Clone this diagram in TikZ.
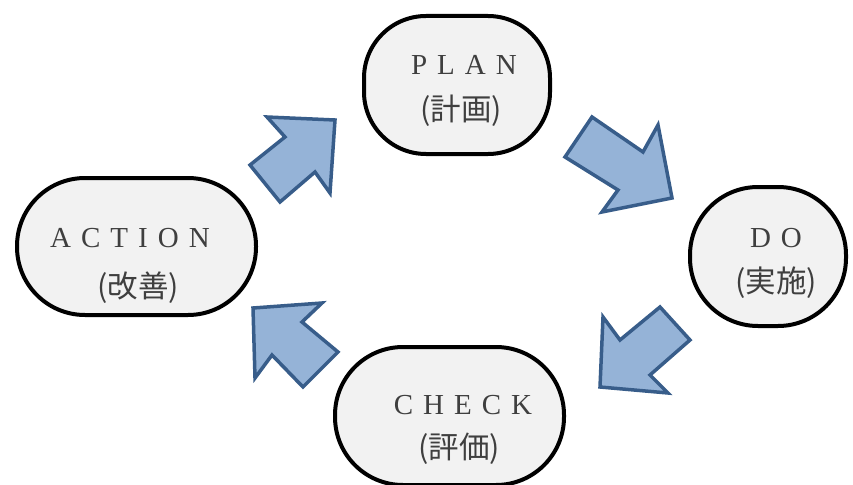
\documentclass[tikz,border=0pt]{standalone}
\usepackage{fontspec}
\setmainfont{Liberation Serif}
\newfontfamily\cjk{Noto Sans CJK JP}
\definecolor{boxfill}{HTML}{F2F2F2}
\definecolor{arrfill}{HTML}{95B3D7}
\definecolor{arrline}{HTML}{385D8A}
\definecolor{txt}{HTML}{3F3F3F}
\begin{document}
\begin{tikzpicture}[x=1pt,y=-1pt,
  box/.style={draw=black, line width=4pt, fill=boxfill, rounded corners=#1, inner sep=0pt},
  en/.style={anchor=base, inner sep=0pt, text=txt, font=\fontsize{29}{30}\selectfont},
  jp/.style={inner sep=0pt, text=txt, font=\cjk\fontsize{30.5}{32}\selectfont},
  blockarrow/.style={draw=arrline, fill=arrfill, line width=3.5pt, line join=miter}]
\useasboundingbox (0,0) rectangle (853,484);

% nodes
\node[box=62pt, minimum width=186pt, minimum height=138pt] (plan) at (457,85) {};
\node[box=68pt, minimum width=156pt, minimum height=139pt] (do) at (768,256.5) {};
\node[box=68pt, minimum width=239pt, minimum height=137pt] (action) at (136.5,246.5) {};
\node[box=68pt, minimum width=229pt, minimum height=138pt] (check) at (449.5,416) {};

% texts
\node[en] (plantxt) at (464,75) {P\kern10pt L\kern10pt A\kern10pt N};
\node[jp] (planjp) at (461,111) {(計画)};
\node[en] (dotxt) at (776,247) {D\kern10pt O};
\node[jp] (dojp) at (776,283) {(実施)};
\node[en] (actiontxt) at (130,247) {A\kern10pt C\kern10pt T\kern10pt I\kern10pt O\kern10pt N};
\node[jp] (actionjp) at (138,288) {(改善)};
\node[en] (checktxt) at (463,414) {C\kern10pt H\kern10pt E\kern10pt C\kern10pt K};
\node[jp] (checkjp) at (459,449) {(評価)};

% block arrows
\draw[blockarrow] (250,165) -- (285,137) -- (267,117) -- (335,120) -- (330,193) -- (315,172) -- (280,202) -- cycle;
\draw[blockarrow] (592,117) -- (643,152) -- (658,125) -- (672,198) -- (602,212) -- (618,190) -- (565,157) -- cycle;
\draw[blockarrow] (660,307) -- (620,340) -- (603,317) -- (600,387) -- (668,393) -- (650,375) -- (690,340) -- cycle;
\draw[blockarrow] (338,352) -- (302,322) -- (322,303) -- (253,308) -- (255,378) -- (272,355) -- (303,387) -- cycle;
\end{tikzpicture}
\end{document}
